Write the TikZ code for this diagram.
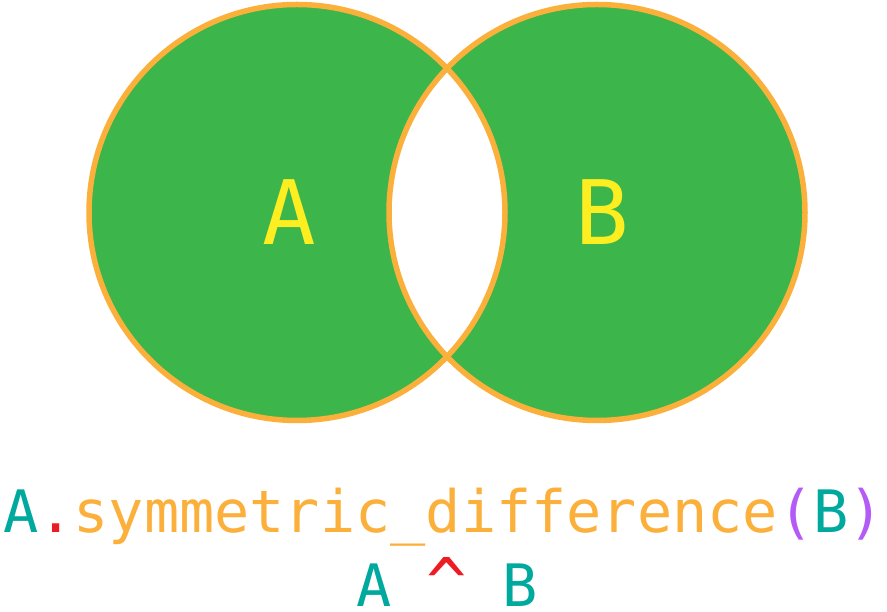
\documentclass[tikz,border=0pt]{standalone}
\usepackage{fontspec}
\setmonofont{DejaVu Sans Mono}
\usepackage{tikz}

\definecolor{setgreen}{RGB}{60,181,74}
\definecolor{setorange}{RGB}{251,176,59}
\definecolor{setyellow}{RGB}{252,238,33}
\definecolor{codeteal}{RGB}{0,169,157}
\definecolor{codered}{RGB}{237,28,36}
\definecolor{codepurple}{RGB}{179,90,247}

\begin{document}
\begin{tikzpicture}[x=1pt, y=1pt]

% Styles
\tikzset{
  setrim/.style={line width=5.5pt, setorange},
  setname/.style={font=\ttfamily\fontsize{89}{89}\selectfont, text=setyellow, anchor=base, inner sep=0pt},
  codeline/.style={font=\ttfamily\fontsize{58.5}{58.5}\selectfont, anchor=base, inner sep=0pt, text depth=0pt}
}

\useasboundingbox (0,0) rectangle (887,612);

% Coordinates
\coordinate (CA) at (297,399.5); % centre of set A
\coordinate (CB) at (597,399.5); % centre of set B

% Sets (even odd leaves the overlap white)
\fill[setgreen, even odd rule] (CA) circle (208) (CB) circle (208);
\draw[setrim] (CA) circle (208);
\draw[setrim] (CB) circle (208);

\node[setname] (nameA) at (289,367) {A};
\node[setname] (nameB) at (602,367) {B};

% Code
\node[codeline] (method) at (443.5,79) {\textcolor{codeteal}{A}\textcolor{codered}{.}\textcolor{setorange}{symmetric\_difference}\textcolor{codepurple}{(}\textcolor{codeteal}{B}\textcolor{codepurple}{)}};
\node[codeline] (operator) at (447,5) {\textcolor{codeteal}{A} \textcolor{codered}{\scalebox{1.15}{\textasciicircum}} \textcolor{codeteal}{B}};

\end{tikzpicture}
\end{document}
